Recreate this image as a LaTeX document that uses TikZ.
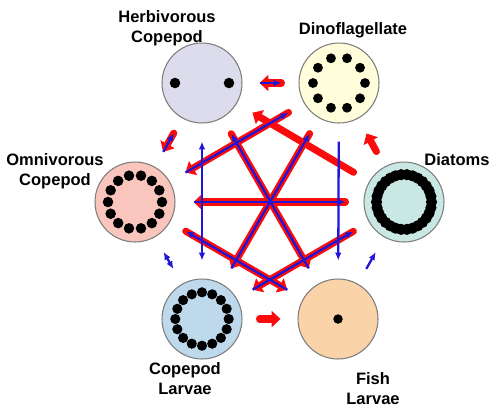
\documentclass[tikz,border=0pt]{standalone}
\usepackage{fontspec}
\setmainfont{Liberation Sans}
\usepackage{tikz}
\usetikzlibrary{arrows.meta}
\definecolor{herbfill}{RGB}{221, 220, 236}
\definecolor{dinofill}{RGB}{255, 253, 218}
\definecolor{omnifill}{RGB}{249, 197, 189}
\definecolor{diatfill}{RGB}{201, 231, 227}
\definecolor{larvfill}{RGB}{190, 216, 236}
\definecolor{fishfill}{RGB}{251, 211, 168}
\definecolor{rimgray}{RGB}{125, 125, 125}
\definecolor{flowred}{RGB}{250, 12, 12}
\definecolor{flowblue}{RGB}{32, 22, 215}
\tikzset{
    cell/.style  ={circle, draw=rimgray, line width=0.6pt,
                   minimum size=1.6cm, inner sep=0pt},
    lbl/.style   ={font=\fontsize{9.4}{11.3}\selectfont\bfseries,
                   align=center, inner sep=0pt},
    rd/.style    ={draw=flowred, line width=4pt, line cap=round,
                   -{Triangle[length=5pt, width=9pt]}},
    bl/.style    ={draw=flowblue, line width=1.3pt,
                   -{Latex[length=4.5pt, width=3.8pt]}},
    blboth/.style={bl, {Latex[length=4.5pt, width=3.8pt]}-{Latex[length=4.5pt, width=3.8pt]}},
    far/.style   ={shorten <=0.36cm, shorten >=0.36cm},
    near/.style  ={shorten <=0.34cm, shorten >=0.34cm}
}

\begin{document}
\begin{tikzpicture}[x=0.02cm, y=-0.02cm]
  \useasboundingbox (0,0) rectangle (493,407);

  \node[cell, fill=herbfill] (herb) at (202,83)  {};
  \node[cell, fill=dinofill] (dino) at (339,83)  {};
  \node[cell, fill=omnifill] (omni) at (135,202) {};
  \node[cell, fill=diatfill] (diat) at (404,202) {};
  \node[cell, fill=larvfill] (larv) at (202,319) {};
  \node[cell, fill=fishfill] (fish) at (338,319) {};

  \node[lbl] (herblbl) at (167,28)  {Herbivorous\\Copepod};
  \node[lbl] (dinolbl) at (353,30)  {Dinoflagellate};
  \node[lbl] (omnilbl) at (55,171)  {Omnivorous\\Copepod};
  \node[lbl] (diatlbl) at (457,160) {Diatoms};
  \node[lbl] (larvlbl) at (185,379) {Copepod\\Larvae};
  \node[lbl] (fishlbl) at (373,389) {Fish\\Larvae};

  \foreach \s in {-1,1}
    \fill (herb) ++(27*\s,0) circle[radius=3pt];
  \foreach \a in {0,36,...,324}
    \fill (dino) ++(\a:26) circle[radius=2.8pt];
  \foreach \i in {0,...,13}
    \fill (omni) ++({\i*360/14}:27) circle[radius=3pt];
  \foreach \i in {0,...,29}
    \fill (diat) ++({\i*12}:27.5) circle[radius=3.2pt];
  \foreach \i in {0,...,15}
    \fill (larv) ++({\i*22.5}:26.7) circle[radius=2.9pt];
  \fill (fish) circle[radius=2.7pt];

  \draw[rd, far]  (diat) -- (omni);
  \draw[rd, far]  (herb) -- (fish);
  \draw[rd, far]  (dino) -- (larv);
  \draw[rd, far]  (dino) -- (omni);
  \draw[rd, far]  (diat) -- (herb);
  \draw[rd, far]  (omni) -- (fish);
  \draw[rd, far]  (diat) -- (larv);
  \draw[rd, near] (dino) -- (herb);
  \draw[rd, near] (herb) -- (omni);
  \draw[rd, near] (larv) -- (fish);
  \draw[rd, near] (diat) -- (dino);

  \draw[bl, far]  (omni) -- (diat);
  \draw[bl, far]  (fish) -- (herb);
  \draw[bl, far]  (larv) -- (dino);
  \draw[bl, far]  (omni) -- (dino);
  \draw[bl, far]  (fish) -- (omni);
  \draw[bl, far]  (larv) -- (diat);
  \draw[blboth, far] (herb) -- (larv);
  \draw[bl, far]  (dino) -- (fish);
  \draw[bl, near] (herb) -- (dino);
  \draw[bl, near] (omni) -- (herb);
  \draw[blboth, near] (omni) -- (larv);
  \draw[bl, near] (fish) -- (diat);
\end{tikzpicture}
\end{document}
